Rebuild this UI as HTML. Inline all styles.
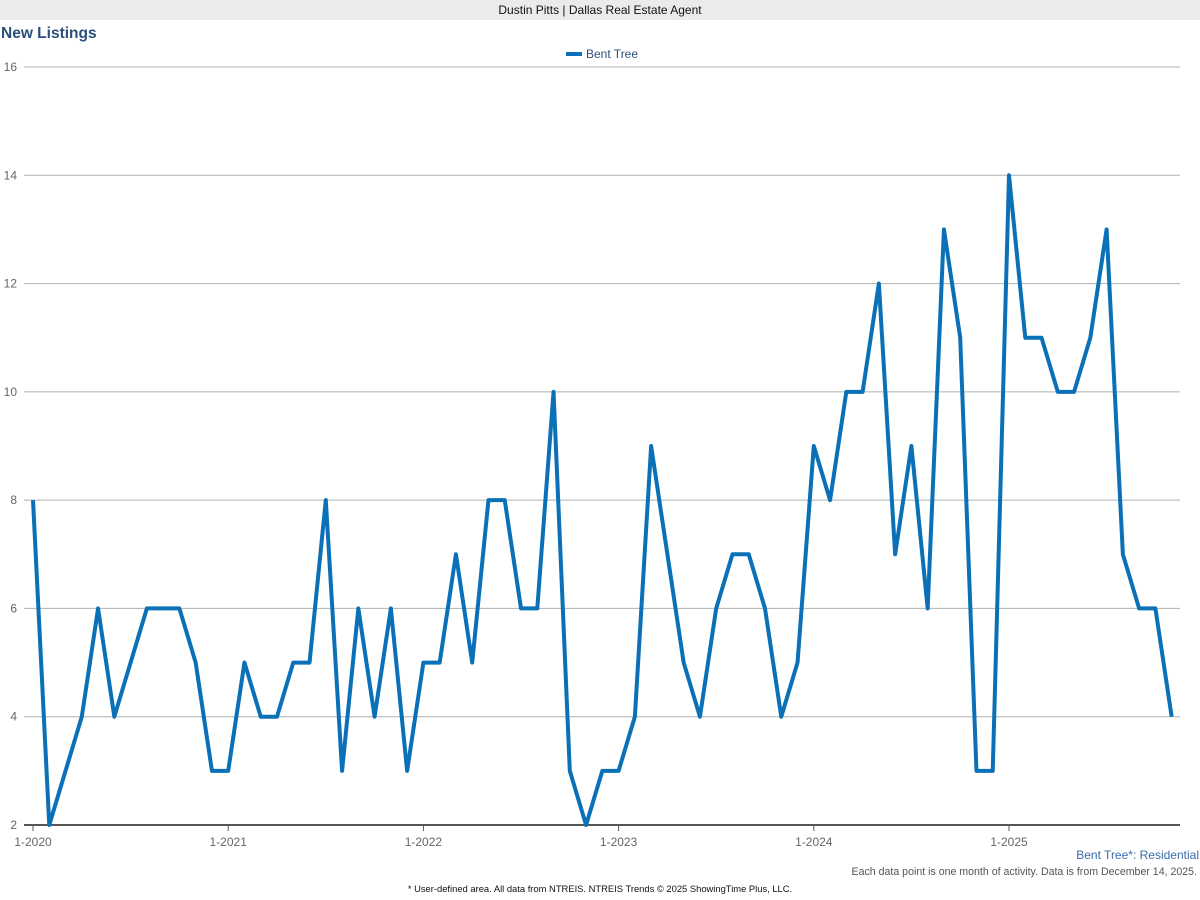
<!DOCTYPE html>
<html><head><meta charset="utf-8"><style>
body{margin:0;width:1200px;height:900px;background:#fff;font-family:"Liberation Sans",Arial,sans-serif;overflow:hidden;position:relative}
.hdr{position:absolute;left:0;top:0;width:1200px;height:20px;background:#ebebeb;font-size:12px;line-height:21px;text-align:center;color:#111}
.t{position:absolute;white-space:nowrap}
</style></head><body>
<div class="hdr">Dustin Pitts | Dallas Real Estate Agent</div>
<div class="t" style="left:1px;top:25px;font-size:15.5px;font-weight:bold;color:#2b4e7a">New Listings</div>
<svg width="1200" height="900" style="position:absolute;left:0;top:0" id="s">
<line x1="566" y1="54" x2="582" y2="54" stroke="#0a70b8" stroke-width="4"/>
<text x="586" y="58" font-size="12" fill="#2b4e7a">Bent Tree</text>
<g id="g"></g>
<polyline id="p" fill="none" stroke="#0a70b8" stroke-width="4" stroke-linejoin="round"/>
<text x="1199" y="859" font-size="12" fill="#3a6ea8" text-anchor="end">Bent Tree*: Residential</text>
<text x="1197" y="875" font-size="10.6" fill="#555" text-anchor="end">Each data point is one month of activity. Data is from December 14, 2025.</text>
<text x="600" y="892" font-size="9.4" fill="#111" text-anchor="middle">* User-defined area. All data from NTREIS. NTREIS Trends © 2025 ShowingTime Plus, LLC.</text>
</svg>
<script>
var d=[8,2,3,4,6,4,5,6,6,6,5,3, 3,5,4,4,5,5,8,3,6,4,6,3, 5,5,7,5,8,8,6,6,10,3,2,3, 3,4,9,7,5,4,6,7,7,6,4,5, 9,8,10,10,12,7,9,6,13,11,3,3, 14,11,11,10,10,11,13,7,6,6,4];
function Y(v){return 825-(v-2)*758/14}
function X(i){return 33+i*(1009-33)/60}
var g='';
for(var v=4;v<=16;v+=2){g+='<line x1="24" x2="1180" y1="'+Y(v)+'" y2="'+Y(v)+'" stroke="#b0b0b0" stroke-width="1"/>';}
for(var v=2;v<=16;v+=2){g+='<text x="17" y="'+(Y(v)+4)+'" font-size="12" fill="#666" text-anchor="end">'+v+'</text>';}
g+='<line x1="24" x2="1180" y1="825" y2="825" stroke="#555" stroke-width="2"/>';
for(var k=0;k<6;k++){var x=X(k*12);g+='<line x1="'+x+'" x2="'+x+'" y1="825" y2="831" stroke="#555"/><text x="'+x+'" y="846" font-size="12" fill="#666" text-anchor="middle">1-'+(2020+k)+'</text>';}
document.getElementById('g').innerHTML=g;
document.getElementById('p').setAttribute('points',d.map(function(v,i){return X(i)+','+Y(v)}).join(' '));
</script>
</body></html>
